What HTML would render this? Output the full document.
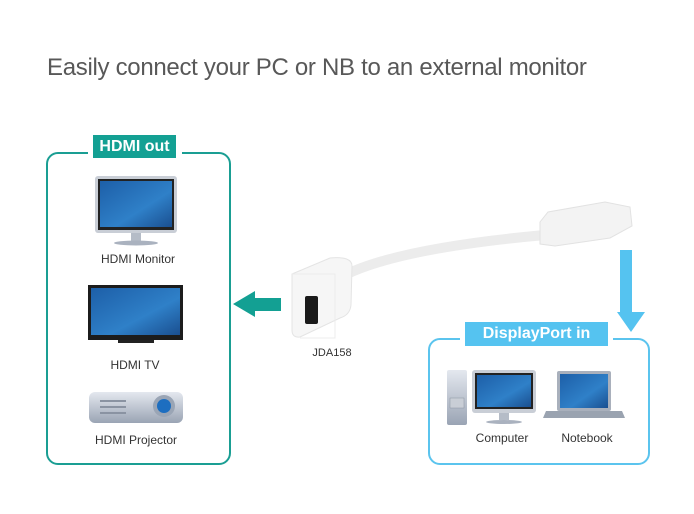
<!DOCTYPE html>
<html><head><meta charset="utf-8"><style>
body{margin:0;width:694px;height:514px;background:#fff;position:relative;overflow:hidden;font-family:"Liberation Sans",sans-serif}
.a{position:absolute}
.t{position:absolute;font-size:12px;color:#333;transform:translateX(-50%);white-space:nowrap}
</style></head><body>
<div class="a" style="left:47px;top:54px;font-size:24px;color:#585858;letter-spacing:-0.3px">Easily connect your PC or NB to an external monitor</div>

<div class="a" style="left:46px;top:152px;width:181px;height:309px;border:2px solid #1a9e93;border-radius:12px"></div>
<div class="a" style="left:88px;top:134px;width:94px;height:24px;background:#fff"></div>
<div class="a" style="left:93px;top:135px;width:83px;height:23px;background:#13a093;color:#fff;font-weight:bold;font-size:16px;text-align:center;line-height:23px">HDMI out</div>

<div class="a" style="left:428px;top:338px;width:218px;height:123px;border:2px solid #5bc4ee;border-radius:12px"></div>
<div class="a" style="left:460px;top:321px;width:153px;height:26px;background:#fff"></div>
<div class="a" style="left:465px;top:322px;width:143px;height:24px;background:#55c3f0;color:#fff;font-weight:bold;font-size:16px;text-align:center;line-height:24px">DisplayPort in</div>

<svg class="a" style="left:0;top:0" width="694" height="514">
<defs><linearGradient id="s" x1="0" y1="0" x2="1" y2="1"><stop offset="0" stop-color="#1d5fa8"/><stop offset="0.6" stop-color="#2f80c8"/><stop offset="1" stop-color="#1a4f90"/></linearGradient>
<linearGradient id="g" x1="0" y1="0" x2="0" y2="1"><stop offset="0" stop-color="#e4e8ef"/><stop offset="1" stop-color="#9aa4b4"/></linearGradient></defs>
<rect x="95" y="176" width="82" height="57" rx="3" fill="#c9ced6"/><rect x="98" y="179" width="76" height="51" fill="#222"/><rect x="100" y="181" width="72" height="46" fill="url(#s)"/>
<rect x="131" y="233" width="10" height="8" fill="#b5bcc7"/><ellipse cx="136" cy="243" rx="22" ry="2.5" fill="#aab2bf"/>
<rect x="88" y="285" width="95" height="55" fill="#1c1c1c"/><rect x="91" y="288" width="89" height="47" fill="url(#s)"/><rect x="118" y="340" width="36" height="3" fill="#222"/>
<rect x="89" y="392" width="94" height="31" rx="6" fill="url(#g)"/><circle cx="164" cy="406" r="11" fill="#9aa5b5"/><circle cx="164" cy="406" r="7" fill="#1d6ec0"/>
<rect x="100" y="400" width="26" height="2" fill="#8a93a2"/><rect x="100" y="406" width="26" height="2" fill="#8a93a2"/><rect x="100" y="412" width="26" height="2" fill="#8a93a2"/>
<polygon points="233,304 255,291 255,298 281,298 281,311 255,311 255,317" fill="#13a093"/>
<path d="M345 275 Q400 248 545 235" stroke="#ececec" stroke-width="10" fill="none"/>
<path d="M540 222 L548 212 L605 202 L630 207 L632 226 L610 238 L555 246 L540 244 Z" fill="#f3f3f3" stroke="#e2e2e2"/>
<path d="M292 274 L330 258 Q352 256 352 266 L351 305 Q350 315 340 318 L300 337 Q292 338 292 330 Z" fill="#f6f6f6" stroke="#e4e4e4"/>
<path d="M292 274 L335 274 L335 338 L300 338" fill="none" stroke="#ececec"/>
<rect x="305" y="296" width="13" height="28" rx="2" fill="#1a1a1a"/>
<polygon points="620,250 632,250 632,312 645,312 631,332 617,312 620,312" fill="#55c3f0"/>
<rect x="447" y="370" width="20" height="55" rx="2" fill="url(#g)"/><rect x="450" y="398" width="14" height="10" fill="#c9ced6" stroke="#8a93a2" stroke-width="0.5"/>
<rect x="472" y="370" width="64" height="43" rx="3" fill="#c9ced6"/><rect x="475" y="373" width="58" height="36" fill="#222"/><rect x="477" y="375" width="54" height="32" fill="url(#s)"/>
<rect x="499" y="413" width="10" height="7" fill="#b5bcc7"/><ellipse cx="504" cy="422" rx="18" ry="2" fill="#aab2bf"/>
<rect x="557" y="371" width="54" height="40" rx="2" fill="#a9b0bc"/><rect x="560" y="374" width="48" height="34" fill="url(#s)"/>
<path d="M546 411 L622 411 L625 418 L543 418 Z" fill="#9aa3b0"/>
</svg>

<div class="t" style="left:138px;top:252px">HDMI Monitor</div>
<div class="t" style="left:135px;top:358px">HDMI TV</div>
<div class="t" style="left:136px;top:433px">HDMI Projector</div>
<div class="t" style="left:332px;top:347px;font-size:11px">JDA158</div>
<div class="t" style="left:502px;top:431px">Computer</div>
<div class="t" style="left:587px;top:431px">Notebook</div>
</body></html>
